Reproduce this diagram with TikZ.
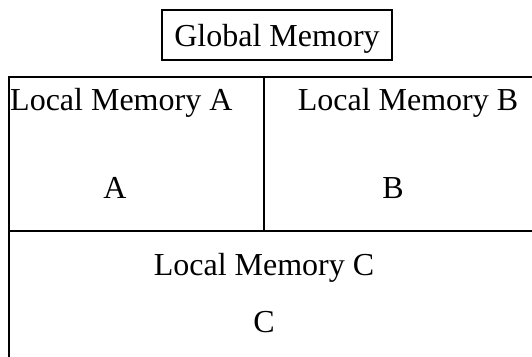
\documentclass[tikz,border=0pt]{standalone}
\usepackage{fontspec}
\setmainfont{Liberation Serif}
\begin{document}
\begin{tikzpicture}[x=1pt,y=-1pt,
  lbl/.style={font=\fontsize{32}{36}\selectfont, inner sep=0pt},
  frame/.style={line width=2.2pt, black}]
\useasboundingbox (0,0) rectangle (532,356);
\node[draw, line width=2.2pt, minimum width=230pt, minimum height=50pt, inner sep=0pt,
      text height=23pt, text depth=0pt,
      font=\fontsize{32}{36}\selectfont] (global) at (277,35) {Global Memory};
\coordinate (tl) at (9,77);
\coordinate (tr) at (533,77);
\coordinate (bl) at (9,357);
\coordinate (dt) at (264,77);
\coordinate (db) at (264,231);
\coordinate (hl) at (9,231);
\coordinate (hr) at (533,231);
\draw[frame] (bl) -- (tl) -- (tr);
\draw[frame] (dt) -- (db);
\draw[frame] (hl) -- (hr);
\node[lbl, anchor=base west] (lma) at (10,110) {Local Memory A};
\node[lbl, anchor=base] (lmb) at (408,110) {Local Memory B};
\node[lbl, anchor=base] (a) at (115,198) {A};
\node[lbl, anchor=base] (b) at (393,198) {B};
\node[lbl, anchor=base] (lmc) at (264,275) {Local Memory C};
\node[lbl, anchor=base] (c) at (264,332) {C};
\end{tikzpicture}
\end{document}
